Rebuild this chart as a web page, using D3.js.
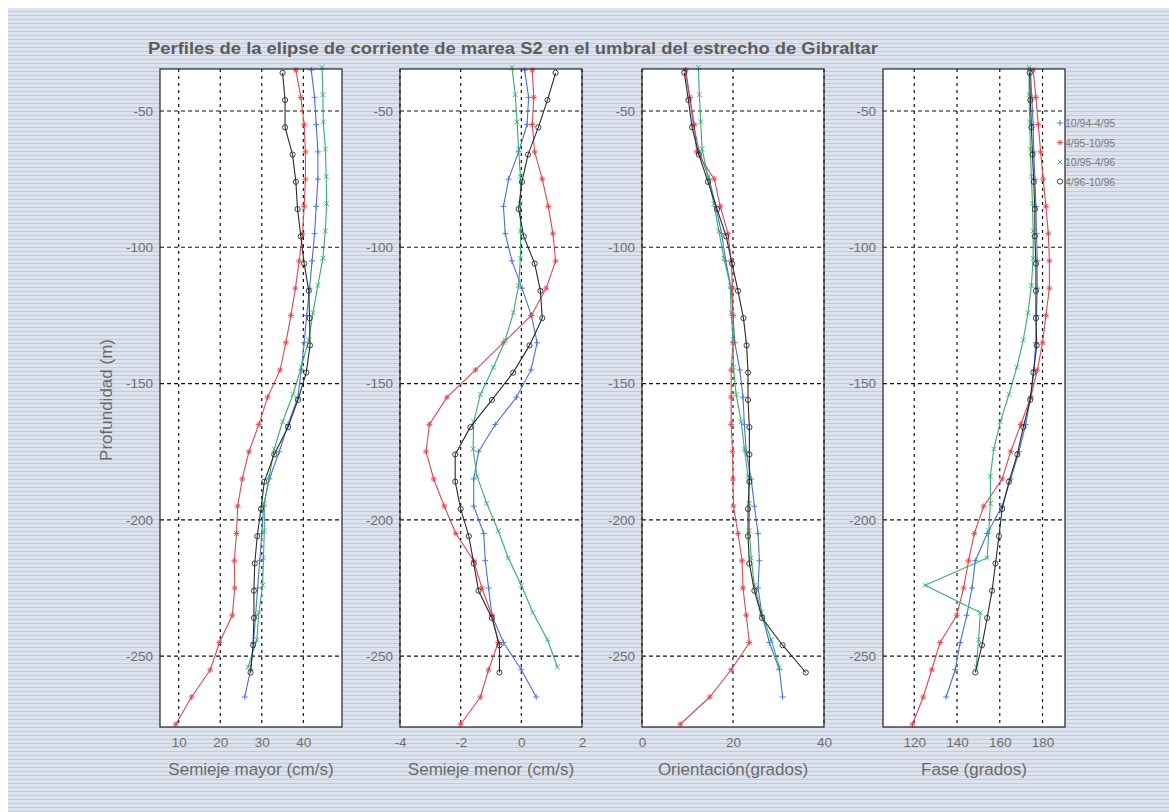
<!DOCTYPE html>
<html>
<head>
<meta charset="utf-8">
<script src="https://cdn.jsdelivr.net/npm/d3@7"></script>
<style>
  body { margin: 0; background: #fff; }
  text { font-family: "Liberation Sans", Arial, sans-serif; }
</style>
</head>
<body>
<svg id="chart"></svg>
<script>
// series (legend labels)
const seriesNames = ['10/94-4/95', '4/95-10/95', '10/95-4/96', '4/96-10/96'];

// depths (m) of each series
const depthBlue  = [-35,-45,-55,-65,-75,-85,-95,-105,-115,-125,-135,-145,-155,-165,-175,-185,-195,-205,-215,-225,-235,-245,-255,-265];
const depthRed   = [-35,-45,-55,-65,-75,-85,-95,-105,-115,-125,-135,-145,-155,-165,-175,-185,-195,-205,-215,-225,-235,-245,-255,-265,-275];
const depthGreen = [-34,-44,-54,-64,-74,-84,-94,-104,-114,-124,-134,-144,-154,-164,-174,-184,-194,-204,-214,-224,-234,-244,-254];
const depthBlack = [-36,-46,-56,-66,-76,-86,-96,-106,-116,-126,-136,-146,-156,-166,-176,-186,-196,-206,-216,-226,-236,-246,-256];

// Semieje mayor (cm/s)
const mayorBlue  = [41.9,42.7,43.1,43.5,43.5,43.1,42.7,42.1,41.5,40.8,40.2,39.5,38.7,36.3,34.2,31.8,30.4,30.0,29.5,29.0,28.5,28.0,27.3,25.9];
const mayorRed   = [38.2,39.4,40.2,40.5,40.5,40.2,39.8,39.0,38.1,37.0,35.8,34.4,31.4,29.3,26.9,25.3,24.2,23.9,23.4,23.5,22.9,19.8,17.6,13.1,9.3];
const mayorGreen = [44.5,44.7,44.8,45.3,45.5,45.6,45.3,44.7,43.5,42.3,41.3,39.5,37.5,35.0,33.0,31.8,30.6,30.6,30.4,30.2,29.3,28.8,26.7];
const mayorBlack = [35.0,35.6,35.6,37.4,38.2,38.6,39.4,40.2,41.3,41.5,41.6,40.7,38.7,36.3,33.0,30.6,29.8,28.9,28.3,28.1,28.1,27.9,27.3];

// Semieje menor (cm/s)
const menorBlue  = [0.11,0.24,0.19,-0.09,-0.42,-0.59,-0.53,-0.31,0.02,0.33,0.52,0.32,-0.16,-0.86,-1.41,-1.57,-1.57,-1.24,-1.19,-1.08,-0.97,-0.59,0.0,0.49];
const menorRed   = [0.36,0.41,0.36,0.44,0.69,0.89,1.04,1.13,0.82,0.33,-0.59,-1.51,-2.45,-3.03,-3.14,-2.89,-2.54,-2.16,-1.57,-1.30,-0.97,-0.76,-1.08,-1.35,-2.0];
const menorGreen = [-0.31,-0.20,-0.14,-0.09,-0.03,-0.03,-0.03,-0.03,-0.09,-0.26,-0.53,-0.92,-1.35,-1.57,-1.59,-1.46,-1.14,-0.76,-0.43,0.0,0.38,0.86,1.19];
const menorBlack = [1.13,0.86,0.56,0.22,0.02,-0.09,0.08,0.44,0.63,0.69,0.27,-0.27,-0.97,-1.68,-2.18,-2.18,-2.0,-1.73,-1.57,-1.41,-0.97,-0.72,-0.72];

// Orientación (grados)
const orientBlue  = [9.5,10.5,11.3,12.6,14.8,16.2,17.5,18.4,19.6,20.0,20.4,21.5,22.2,22.5,22.9,24.0,24.7,25.5,25.8,25.5,26.4,28.0,30.2,30.9];
const orientRed   = [9.6,10.5,11.5,12.0,15.9,17.2,18.9,19.6,19.9,20.0,20.0,19.6,19.6,19.6,19.9,20.0,20.1,21.1,22.0,22.2,22.9,23.6,19.6,14.9,8.4];
const orientGreen = [12.4,12.6,12.9,13.2,14.5,15.8,16.9,18.0,19.4,19.6,20.0,20.1,20.7,21.8,22.5,23.3,23.6,23.6,24.0,24.7,26.2,28.4,30.2];
const orientBlack = [9.3,10.2,11.0,12.5,14.5,16.5,18.5,19.8,21.1,22.3,23.0,23.3,23.3,23.6,23.6,23.6,23.3,23.3,23.6,24.7,26.4,30.9,36.0];

// Fase (grados)
const faseBlue  = [174.3,175.0,175.6,175.9,176.4,176.9,177.2,177.5,177.5,177.2,176.8,176.0,174.5,172.1,169.0,165.1,161.1,154.1,148.6,147.0,144.6,141.5,139.2,134.9];
const faseRed   = [175.6,176.9,178.0,179.1,180.3,181.6,182.7,183.2,183.2,181.6,180.0,177.6,174.5,169.8,165.1,161.1,152.5,148.1,145.4,143.1,139.9,132.1,128.2,124.2,119.2];
const faseGreen = [173.7,173.7,174.0,174.3,174.8,175.3,175.6,175.6,174.8,173.2,171.0,168.0,164.3,160.3,157.2,155.6,155.6,154.9,154.1,125.1,150.9,150.1,149.0];
const faseBlack = [174.0,174.3,174.8,175.3,175.9,176.4,176.4,176.9,176.9,176.9,177.3,175.7,174.2,171.0,168.2,164.3,161.1,159.6,158.0,156.4,154.1,151.7,148.6];

// tick values
const depthTicks  = [-50, -100, -150, -200, -250];
const mayorTicks  = [10, 20, 30, 40];
const menorTicks  = [-4, -2, 0, 2];
const orientTicks = [0, 20, 40];
const faseTicks   = [120, 140, 160, 180];

const titleText = 'Perfiles de la elipse de corriente de marea S2 en el umbral del estrecho de Gibraltar';
const xLabels = ['Semieje mayor (cm/s)', 'Semieje menor (cm/s)', 'Orientación(grados)', 'Fase (grados)'];
const yLabel = 'Profundidad (m)';

// ---- layout
const W = 1169, H = 812;
const plotTop = 69, plotBottom = 727, panelW = 182;
const colors = ['#4a6ee0', '#e0474f', '#35ad6c', '#2a2a2a'];
const depths = [depthBlue, depthRed, depthGreen, depthBlack];

const panels = [
  {left: 160, domain: [5.5, 49.3], ticks: mayorTicks, values: [mayorBlue, mayorRed, mayorGreen, mayorBlack]},
  {left: 400, domain: [-4, 2], ticks: menorTicks, values: [menorBlue, menorRed, menorGreen, menorBlack]},
  {left: 642, domain: [0, 40], ticks: orientTicks, values: [orientBlue, orientRed, orientGreen, orientBlack]},
  {left: 883, domain: [105.4, 190.5], ticks: faseTicks, values: [faseBlue, faseRed, faseGreen, faseBlack]}
];

// marker shapes: + * x o
const markerPath = [
  'M-3,0H3M0,-3V3',
  'M-3,0H3M0,-3V3M-2.2,-2.2L2.2,2.2M-2.2,2.2L2.2,-2.2',
  'M-2.4,-2.4L2.4,2.4M-2.4,2.4L2.4,-2.4',
  'M2.6,0A2.6,2.6 0 1,1 -2.6,0A2.6,2.6 0 1,1 2.6,0'
];

const svg = d3.select('#chart').attr('width', W).attr('height', H);

// scanned-paper striped background
const defs = svg.append('defs');
const pat = defs.append('pattern')
  .attr('id', 'stripes').attr('patternUnits', 'userSpaceOnUse')
  .attr('width', 6).attr('height', 4);
pat.append('rect').attr('width', 6).attr('height', 4).attr('fill', '#dce3ee');
pat.append('rect').attr('y', 3).attr('width', 6).attr('height', 1).attr('fill', '#c2cbda');

svg.append('rect').attr('x', 8).attr('y', 8).attr('width', W - 8).attr('height', H - 8)
  .attr('fill', 'url(#stripes)');

const y = d3.scaleLinear().domain([-276, -34.6]).range([plotBottom, plotTop]);

panels.forEach((p, pi) => {
  const x = d3.scaleLinear().domain(p.domain).range([p.left, p.left + panelW]);
  const g = svg.append('g');

  g.append('rect')
    .attr('x', p.left).attr('y', plotTop)
    .attr('width', panelW).attr('height', plotBottom - plotTop)
    .attr('fill', '#fff');

  // grid
  g.selectAll('.vgrid').data(p.ticks).enter().append('line')
    .attr('x1', d => x(d)).attr('x2', d => x(d))
    .attr('y1', plotTop).attr('y2', plotBottom)
    .attr('stroke', '#111').attr('stroke-width', 1.2)
    .attr('stroke-dasharray', '3,4');
  g.selectAll('.hgrid').data(depthTicks).enter().append('line')
    .attr('x1', p.left).attr('x2', p.left + panelW)
    .attr('y1', d => y(d)).attr('y2', d => y(d))
    .attr('stroke', '#111').attr('stroke-width', 1.2)
    .attr('stroke-dasharray', '4,3');

  // profiles
  p.values.forEach((vals, si) => {
    const pts = vals.map((v, i) => ({v: v, d: depths[si][i]}));
    const line = d3.line().x(d => x(d.v)).y(d => y(d.d));
    g.append('path')
      .datum(pts)
      .attr('d', line)
      .attr('fill', 'none')
      .attr('stroke', colors[si])
      .attr('stroke-width', 1.1);
    g.selectAll('.m' + si).data(pts).enter().append('path')
      .attr('transform', d => `translate(${x(d.v)},${y(d.d)})`)
      .attr('d', markerPath[si])
      .attr('fill', 'none')
      .attr('stroke', colors[si])
      .attr('stroke-width', 0.9);
  });

  // box
  g.append('rect')
    .attr('x', p.left).attr('y', plotTop)
    .attr('width', panelW).attr('height', plotBottom - plotTop)
    .attr('fill', 'none').attr('stroke', '#222').attr('stroke-width', 1.2);

  // axes
  const ax = g.append('g')
    .attr('transform', `translate(0,${plotBottom})`)
    .call(d3.axisBottom(x).tickValues(p.ticks).tickSize(0).tickPadding(10).tickFormat(d => String(d)));
  const ay = g.append('g')
    .attr('transform', `translate(${p.left},0)`)
    .call(d3.axisLeft(y).tickValues(depthTicks).tickSize(0).tickPadding(7).tickFormat(d => String(d)));
  [ax, ay].forEach(a => {
    a.select('.domain').remove();
    a.selectAll('text').attr('fill', '#6f6f6f').style('font-size', '13.5px');
  });

  g.append('text')
    .attr('x', p.left + panelW / 2).attr('y', 775)
    .attr('text-anchor', 'middle')
    .attr('fill', '#6a6a6a')
    .style('font-size', '17px')
    .text(xLabels[pi]);
});

// title
svg.append('text')
  .attr('x', 148).attr('y', 54)
  .attr('fill', '#5c5c5c')
  .attr('textLength', 730).attr('lengthAdjust', 'spacingAndGlyphs')
  .style('font-size', '16px').style('font-weight', 'bold')
  .text(titleText);

// y label
svg.append('text')
  .attr('transform', 'translate(112,400) rotate(-90)')
  .attr('text-anchor', 'middle')
  .attr('fill', '#6a6a6a')
  .style('font-size', '17px')
  .text(yLabel);

// legend
const legend = svg.append('g');
seriesNames.forEach((name, i) => {
  const ly = 123 + i * 19.5;
  legend.append('path')
    .attr('transform', `translate(1060,${ly})`)
    .attr('d', markerPath[i])
    .attr('fill', 'none')
    .attr('stroke', colors[i])
    .attr('stroke-width', 0.9);
  legend.append('text')
    .attr('x', 1065).attr('y', ly + 4)
    .attr('fill', '#7a7a7a')
    .style('font-size', '10.5px')
    .text(name);
});
</script>
</body>
</html>
